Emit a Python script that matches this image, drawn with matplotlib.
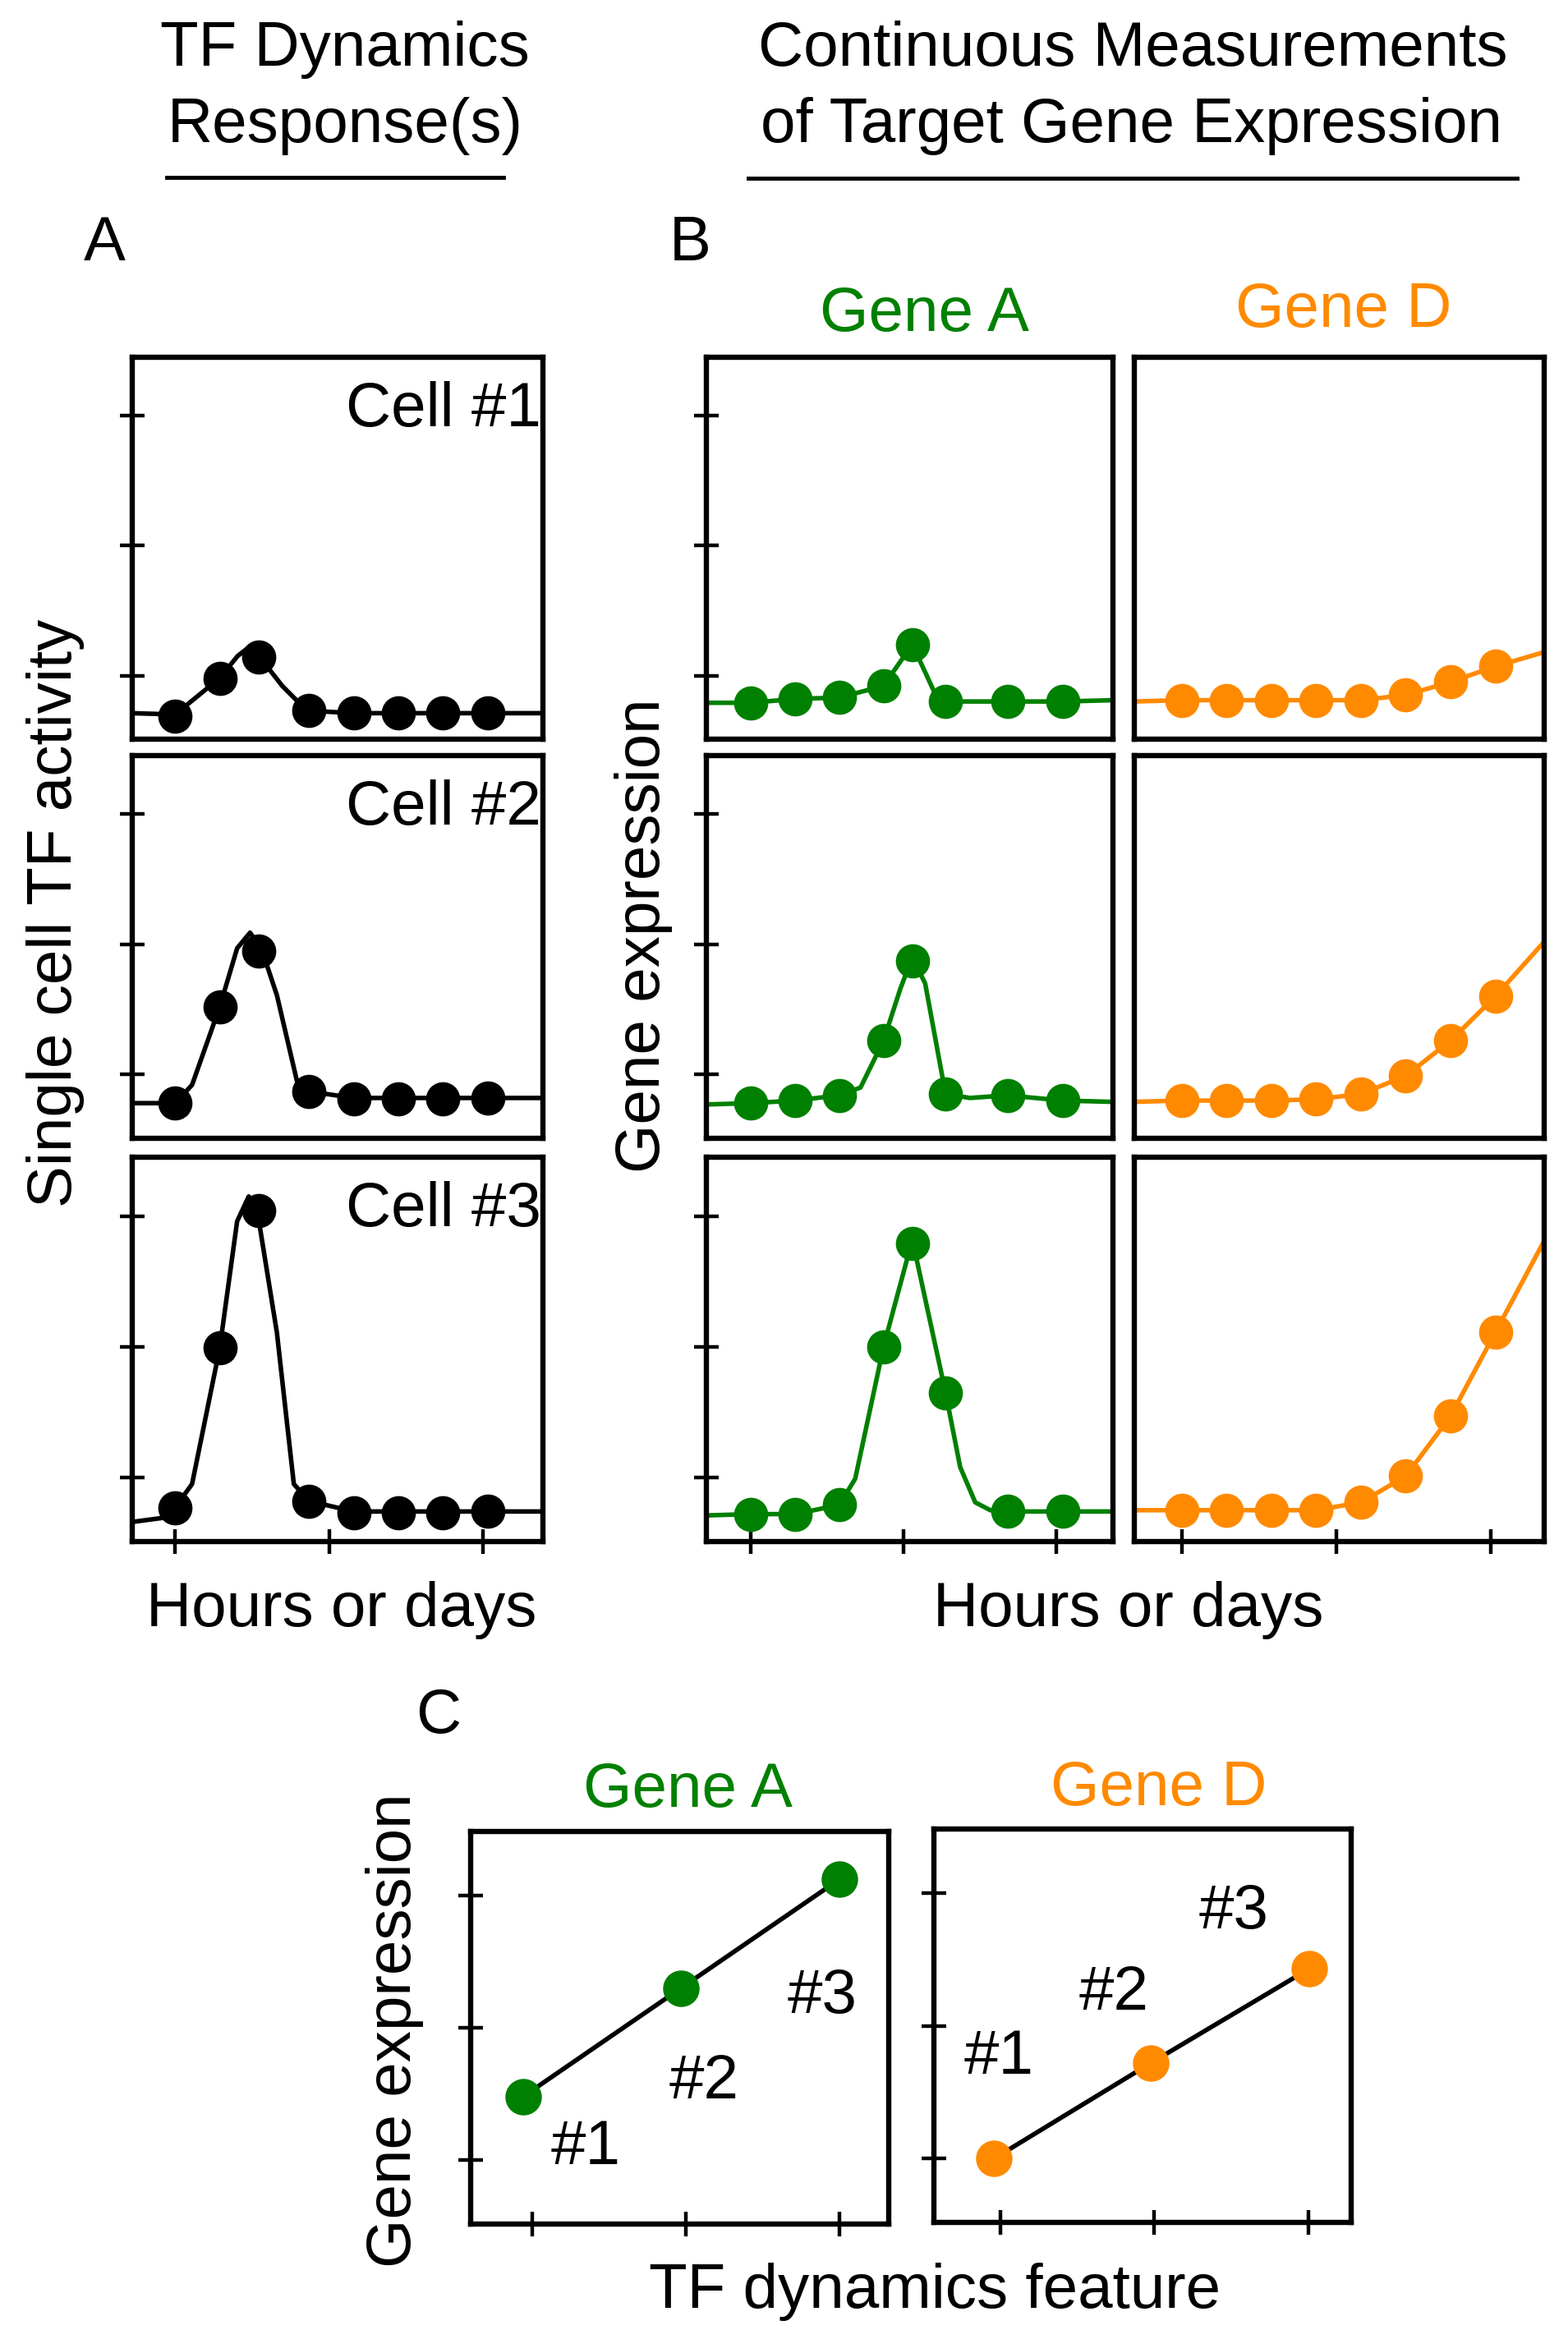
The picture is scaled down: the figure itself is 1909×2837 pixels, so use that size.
import matplotlib
matplotlib.use("Agg")
import matplotlib.pyplot as plt
from matplotlib.lines import Line2D

W, H = 1909, 2837
GREEN = "#008000"
ORANGE = "#ff8a00"

# ---- panel A: single cell TF activity (dots + traced curve) ----
tf_time = [0, 1, 1.88, 3, 4, 5, 6, 7]
tf_cell1 = [0.69, 0.98, 1.14, 0.73, 0.71, 0.71, 0.71, 0.71]
tf_cell2 = [0.78, 1.52, 1.95, 0.87, 0.81, 0.81, 0.81, 0.82]
tf_cell3 = [0.77, 1.99, 3.04, 0.82, 0.73, 0.73, 0.73, 0.74]

tf_curve1_t = [-0.96, 0, 0.5, 1.0, 1.4, 1.7, 1.9, 2.4, 2.95, 4, 8.24]
tf_curve1_v = [0.71, 0.70, 0.84, 0.98, 1.15, 1.23, 1.14, 0.92, 0.73, 0.71, 0.71]
tf_curve2_t = [-0.96, 0, 0.38, 1.0, 1.39, 1.68, 1.95, 2.28, 2.73, 3.0, 4, 8.24]
tf_curve2_v = [0.78, 0.78, 0.92, 1.52, 1.97, 2.09, 1.95, 1.61, 0.95, 0.87, 0.82, 0.82]
tf_curve3_t = [-0.96, -0.3, 0, 0.38, 1.0, 1.39, 1.65, 1.85, 2.28, 2.66, 3.0, 4, 8.24]
tf_curve3_v = [0.66, 0.69, 0.77, 0.95, 1.99, 2.96, 3.15, 3.02, 2.11, 0.95, 0.82, 0.74, 0.74]

# ---- panel B: gene A ----
gA_time = [0, 1, 2, 3, 3.65, 4.4, 5.8, 7.05]
gA_cell1 = [0.79, 0.82, 0.83, 0.92, 1.24, 0.80, 0.80, 0.80]
gA_cell2 = [0.78, 0.80, 0.84, 1.26, 1.87, 0.85, 0.84, 0.80]
gA_cell3 = [0.72, 0.72, 0.79, 2.00, 2.79, 1.65, 0.74, 0.74]

gA_curve1_t = [-1.0, 0, 1, 2, 3, 3.65, 4.15, 4.4, 5.8, 7.05, 8.18]
gA_curve1_v = [0.79, 0.79, 0.82, 0.83, 0.92, 1.24, 0.87, 0.80, 0.80, 0.80, 0.81]
gA_curve2_t = [-1.0, 0, 1, 2, 2.48, 3, 3.38, 3.65, 3.94, 4.4, 4.95, 5.8, 7.05, 8.18]
gA_curve2_v = [0.77, 0.78, 0.80, 0.84, 0.90, 1.26, 1.66, 1.90, 1.70, 0.85, 0.82, 0.84, 0.80, 0.79]
gA_curve3_t = [-1.0, 0, 1, 2, 2.36, 3, 3.65, 4.4, 4.73, 5.07, 5.41, 5.8, 7.05, 8.18]
gA_curve3_v = [0.71, 0.72, 0.72, 0.79, 0.99, 2.00, 2.82, 1.65, 1.08, 0.81, 0.75, 0.74, 0.74, 0.74]

# ---- panel B: gene D ----
gD_time = [0, 1, 2, 3, 4, 5, 6, 7]
gD_cell1 = [0.81, 0.81, 0.81, 0.81, 0.81, 0.85, 0.95, 1.07]
gD_cell2 = [0.80, 0.80, 0.80, 0.81, 0.85, 0.99, 1.26, 1.60]
gD_cell3 = [0.75, 0.75, 0.75, 0.75, 0.81, 1.01, 1.47, 2.11]

gD_curve_t = [-1.06, 0, 1, 2, 3, 4, 5, 6, 7, 8.09]
gD_curve1_v = [0.80, 0.81, 0.81, 0.81, 0.81, 0.81, 0.85, 0.95, 1.07, 1.18]
gD_curve2_v = [0.79, 0.80, 0.80, 0.80, 0.81, 0.85, 0.99, 1.26, 1.60, 2.02]
gD_curve3_v = [0.75, 0.75, 0.75, 0.75, 0.75, 0.81, 1.01, 1.47, 2.11, 2.81]

# ---- panel C: expression vs TF dynamics feature ----
cell_labels = ["#1", "#2", "#3"]
cA_feature = [0.94, 1.97, 3.0]
cA_expr = [1.48, 2.30, 3.12]
cD_feature = [0.96, 1.98, 3.01]
cD_expr = [1.00, 1.72, 2.43]

plt.rcParams["font.family"] = ["Liberation Sans", "DejaVu Sans"]
FS = 55
LW = 4.0

fig = plt.figure(figsize=(W / 100, H / 100), dpi=100)


def px_axes(left, top, right, bottom):
    return fig.add_axes([left / W, 1 - bottom / H, (right - left) / W, (bottom - top) / H])


def style(ax, xlim, ylim, xticks, yticks):
    ax.set_xlim(xlim)
    ax.set_ylim(ylim)
    ax.set_xticks(xticks)
    ax.set_yticks(yticks)
    ax.tick_params(direction="inout", length=22, width=3.2,
                   labelleft=False, labelbottom=False)
    for s in ax.spines.values():
        s.set_linewidth(4.6)


def ftext(x, y, s, **kw):
    kw.setdefault("fontsize", FS)
    kw.setdefault("ha", "center")
    kw.setdefault("va", "baseline")
    fig.text(x / W, 1 - y / H, s, **kw)


rows = [(435, 900), (920, 1386), (1409, 1877)]
time_ticks = [0, 3.45, 6.9]
level_ticks = [1, 2, 3]
ylim_time = (0.51, 3.45)

tf_cells = [tf_cell1, tf_cell2, tf_cell3]
tf_curves = [(tf_curve1_t, tf_curve1_v), (tf_curve2_t, tf_curve2_v), (tf_curve3_t, tf_curve3_v)]
gA_cells = [gA_cell1, gA_cell2, gA_cell3]
gA_curves = [(gA_curve1_t, gA_curve1_v), (gA_curve2_t, gA_curve2_v), (gA_curve3_t, gA_curve3_v)]
gD_cells = [gD_cell1, gD_cell2, gD_cell3]
gD_curves = [gD_curve1_v, gD_curve2_v, gD_curve3_v]

for i, (top, bottom) in enumerate(rows):
    last = i == len(rows) - 1
    xt = time_ticks if last else []

    ax = px_axes(161, top, 661, bottom)
    ax.plot(*tf_curves[i], color="k", lw=LW)
    ax.plot(tf_time, tf_cells[i], "o", color="k", ms=29)
    style(ax, (-0.96, 8.24), ylim_time, xt, level_ticks)
    ax.text(0.996, 0.82, f"Cell #{i + 1}", transform=ax.transAxes,
            ha="right", va="baseline", fontsize=FS)

    ax = px_axes(860, top, 1355, bottom)
    ax.plot(*gA_curves[i], color=GREEN, lw=LW)
    ax.plot(gA_time, gA_cells[i], "o", color=GREEN, ms=29)
    style(ax, (-1.0, 8.18), ylim_time, xt, level_ticks)

    ax = px_axes(1381, top, 1880, bottom)
    ax.plot(gD_curve_t, gD_curves[i], color=ORANGE, lw=LW)
    ax.plot(gD_time, gD_cells[i], "o", color=ORANGE, ms=29)
    style(ax, (-1.06, 8.09), ylim_time, xt, [])

# panel C
axc = px_axes(573, 2230, 1082, 2708)
axc.plot(cA_feature, cA_expr, color="k", lw=LW)
axc.plot(cA_feature, cA_expr, "o", color=GREEN, ms=31)
style(axc, (0.6, 3.32), (0.52, 3.48), [1, 2, 3], level_ticks)
for lab, (x, y) in zip(cell_labels, [(1.35, 1.09), (2.12, 1.59), (2.89, 2.23)]):
    axc.text(x, y, lab, ha="center", va="center", fontsize=FS)

axd = px_axes(1137, 2227, 1645, 2706)
axd.plot(cD_feature, cD_expr, color="k", lw=LW)
axd.plot(cD_feature, cD_expr, "o", color=ORANGE, ms=31)
style(axd, (0.57, 3.28), (0.52, 3.48), [1, 2, 3], level_ticks)
for lab, (x, y) in zip(cell_labels, [(0.99, 1.76), (1.74, 2.24), (2.52, 2.85)]):
    axd.text(x, y, lab, ha="center", va="center", fontsize=FS)

# headers and labels
ftext(420, 80, "TF Dynamics")
ftext(420, 173, "Response(s)")
ftext(1379, 80, "Continuous Measurements")
ftext(1377, 173, "of Target Gene Expression")
fig.add_artist(Line2D([203 / W, 613 / W], [1 - 216 / H] * 2, color="k", lw=3.5))
fig.add_artist(Line2D([911 / W, 1847 / W], [1 - 217 / H] * 2, color="k", lw=3.5))

ftext(127, 317, "A")
ftext(840, 317, "B")
ftext(534, 2110, "C")

ftext(1126, 403, "Gene A", color=GREEN)
ftext(1636, 398, "Gene D", color=ORANGE)
ftext(837, 2200, "Gene A", color=GREEN)
ftext(1411, 2198, "Gene D", color=ORANGE)

ftext(416, 1980, "Hours or days")
ftext(1374, 1980, "Hours or days")
ftext(1138, 2810, "TF dynamics feature")

ftext(87, 1112, "Single cell TF activity", rotation=90, rotation_mode="anchor")
ftext(803, 1139, "Gene expression", rotation=90, rotation_mode="anchor")
ftext(500, 2472, "Gene expression", rotation=90, rotation_mode="anchor")

fig.savefig("out.png", dpi=100, facecolor="white")
